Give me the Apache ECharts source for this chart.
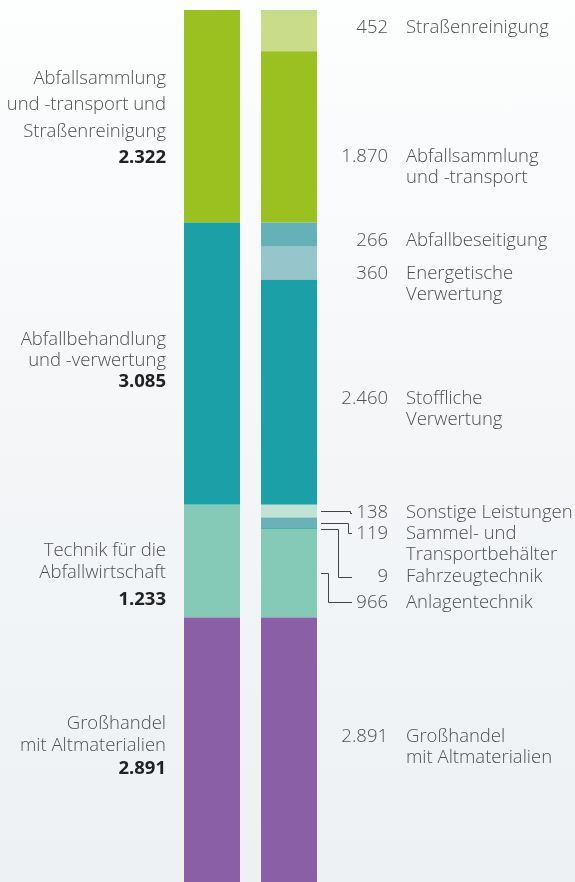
<!DOCTYPE html>
<html>
<head>
<meta charset="utf-8">
<script src="https://cdn.jsdelivr.net/npm/echarts@6/dist/echarts.min.js"></script>
<style>
    html, body {
        margin: 0;
        padding: 0;
        width: 575px;
        height: 882px;
        background: linear-gradient(to bottom, #fdfefe 0%, #f4f6f8 50%, #edf1f4 100%);
    }
    #chart {
        width: 575px;
        height: 882px;
    }
</style>
</head>
<body>
<div id="chart"></div>
<script>
// left bar: main groups
const leftNames = [
    "Abfallsammlung\nund -transport und\nStraßenreinigung",
    "Abfallbehandlung\nund -verwertung",
    "Technik für die\nAbfallwirtschaft",
    "Großhandel\nmit Altmaterialien"
];
const leftValues = [2322, 3085, 1233, 2891];
const leftColors = ["#9bc121", "#1ca0a8", "#85cab6", "#8a5fa5"];

// right bar: breakdown
const rightNames = [
    "Straßenreinigung",
    "Abfallsammlung\nund -transport",
    "Abfallbeseitigung",
    "Energetische\nVerwertung",
    "Stoffliche\nVerwertung",
    "Sonstige Leistungen",
    "Sammel- und\nTransportbehälter",
    "Fahrzeugtechnik",
    "Anlagentechnik",
    "Großhandel\nmit Altmaterialien"
];
const rightValues = [452, 1870, 266, 360, 2460, 138, 119, 9, 966, 2891];
const rightColors = ["#c8dc8a", "#9bc121", "#66b1b8", "#96c5cb", "#1ca0a8",
    "#c1e2d5", "#6ab2b8", "#1ca0a8", "#85cab6", "#8a5fa5"];

// label placement (px shift of first text line from segment middle)
const leftLabelDy = [2, -3, 17, -4];
const leftLineHeight = [26.5, 21, 22, 22.5];
const rightLabelDy = [-3, 20, 6, 10, 6, 2, 11, 48, 29, -13];
// connectors for the small segments: index, elbow distance, end shift
const connectors = [
    { idx: 5, elbow: 29, endDy: 2 },
    { idx: 6, elbow: 27, endDy: 10 },
    { idx: 7, elbow: 17, endDy: 48 },
    { idx: 8, elbow: 7, endDy: 29 }
];

const total = leftValues.reduce((a, b) => a + b, 0);
const fmt = (v) => String(v).replace(/\B(?=(\d{3})+(?!\d))/g, ".");
const FONT = "Open Sans";
const FS = 18.5;
const TXT = "#4f4f4f";
const HALF_BAR = 28;

const series = [];

leftValues.forEach((v, i) => {
    const lines = leftNames[i].split("\n");
    const lh = leftLineHeight[i];
    const boldLh = i == 2 ? 32 : lh;
    series.push({
        name: "L" + i,
        type: "bar",
        stack: "all",
        barWidth: HALF_BAR * 2,
        color: leftColors[i],
        data: [v, "-"],
        label: {
            show: true,
            position: "left",
            distance: 18,
            offset: [0, leftLabelDy[i]],
            align: "right",
            formatter: () =>
                lines.map((l) => "{r|" + l + "}").join("\n") +
                "\n{b|" + fmt(v) + "}",
            rich: {
                r: {
                    fontFamily: FONT,
                    fontWeight: 300,
                    fontSize: FS,
                    color: TXT,
                    lineHeight: lh,
                    align: "right",
                },
                b: {
                    fontFamily: FONT,
                    fontWeight: "bold",
                    fontSize: FS,
                    color: "#222",
                    lineHeight: boldLh,
                    align: "right",
                },
            },
        },
    });
});

rightValues.forEach((v, i) => {
    series.push({
        name: "R" + i,
        type: "bar",
        stack: "all",
        barWidth: HALF_BAR * 2,
        color: rightColors[i],
        barMinHeight: v < 20 ? 1.5 : 0,
        data: ["-", v],
    });
});

const cumStart = rightValues.map((v, i) =>
    rightValues.slice(0, i).reduce((a, b) => a + b, 0)
);
const rightMid = rightValues.map((v, i) => cumStart[i] + v / 2);

// right side labels: number right-aligned, name left-aligned
series.push({
    type: "custom",
    silent: true,
    z: 5,
    data: rightMid.map((m) => [1, m]),
    renderItem: (params, api) => {
        const i = params.dataIndex;
        const p = api.coord([api.value(0), api.value(1)]);
        const xr = p[0] + HALF_BAR;
        const y = p[1] + rightLabelDy[i];
        const base = {
            fontFamily: FONT,
            fontWeight: 300,
            fontSize: FS,
            fill: TXT,
        };
        return {
            type: "group",
            children: [
                {
                    type: "text",
                    style: Object.assign({}, base, {
                        text: fmt(rightValues[i]),
                        x: xr + 71,
                        y: y,
                        align: "right",
                        verticalAlign: "middle",
                    }),
                },
                {
                    type: "text",
                    style: Object.assign({}, base, {
                        text: rightNames[i],
                        x: xr + 89,
                        y: y - 10.5,
                        lineHeight: 21,
                        align: "left",
                        verticalAlign: "top",
                    }),
                },
            ],
        };
    },
});

// connector lines for the thin segments
series.push({
    type: "custom",
    silent: true,
    z: 5,
    data: connectors.map((c) => [1, rightMid[c.idx]]),
    renderItem: (params, api) => {
        const c = connectors[params.dataIndex];
        const p = api.coord([api.value(0), api.value(1)]);
        const x0 = Math.round(p[0] + HALF_BAR + 4);
        const y0 = Math.round(p[1]) + 0.5;
        const y1 = Math.round(p[1] + c.endDy) + 0.5;
        const xe = x0 + c.elbow + 0.5;
        return {
            type: "polyline",
            shape: {
                points: [[x0, y0], [xe, y0], [xe, y1], [x0 + 31, y1]],
            },
            style: { stroke: "#444", lineWidth: 1, fill: null },
        };
    },
});

const chartOption = {
    animation: false,
    backgroundColor: "transparent",
    grid: { left: 173.5, right: 247.5, top: 10, bottom: 0 },
    xAxis: {
        type: "category",
        data: ["links", "rechts"],
        show: false,
    },
    yAxis: {
        type: "value",
        inverse: true,
        min: 0,
        max: total,
        show: false,
    },
    series: series,
};

const myChart = echarts.init(document.getElementById("chart"));
myChart.setOption(chartOption);
</script>
</body>
</html>
